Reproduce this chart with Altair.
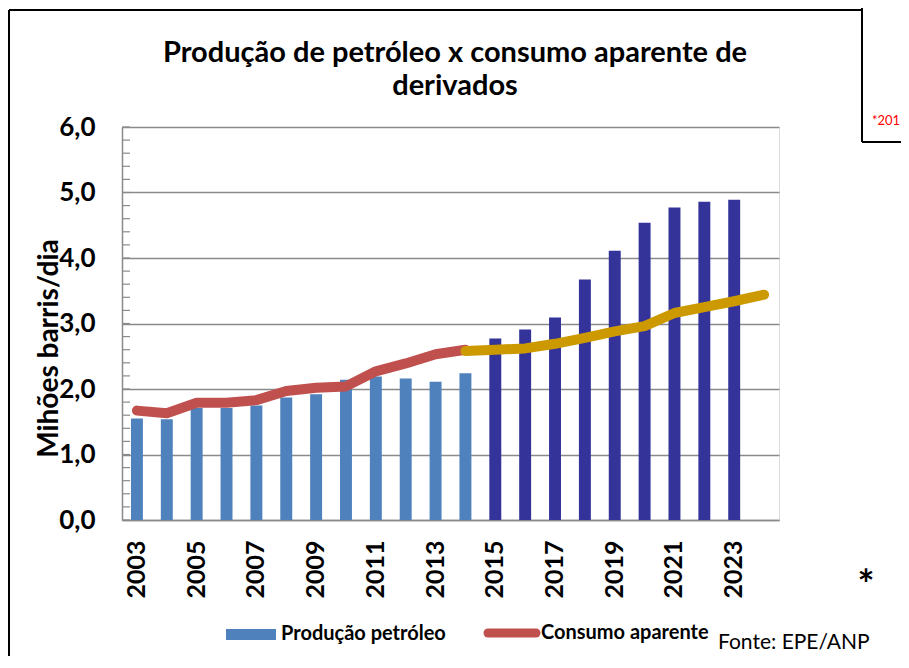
import altair as alt
import pandas as pd

# ---- data ----
anos = [2003, 2004, 2005, 2006, 2007, 2008, 2009, 2010, 2011, 2012, 2013,
        2014, 2015, 2016, 2017, 2018, 2019, 2020, 2021, 2022, 2023, 2024]
anos_producao = [2003, 2004, 2005, 2006, 2007, 2008, 2009, 2010, 2011, 2012, 2013,
                 2014, 2015, 2016, 2017, 2018, 2019, 2020, 2021, 2022, 2023]
producao = [1.55, 1.54, 1.71, 1.71, 1.75, 1.87, 1.92, 2.14, 2.19, 2.16, 2.11,
            2.24, 2.77, 2.91, 3.09, 3.67, 4.11, 4.54, 4.77, 4.86, 4.89]
periodo_producao = ["hist"] * 12 + ["proj"] * 9

anos_consumo_hist = [2003, 2004, 2005, 2006, 2007, 2008, 2009, 2010, 2011, 2012, 2013, 2014]
consumo_hist = [1.67, 1.63, 1.79, 1.79, 1.83, 1.97, 2.02, 2.04, 2.27, 2.39, 2.53, 2.60]
anos_consumo_proj = [2014, 2015, 2016, 2017, 2018, 2019, 2020, 2021, 2022, 2023, 2024]
consumo_proj = [2.58, 2.60, 2.62, 2.69, 2.78, 2.88, 2.96, 3.16, 3.25, 3.34, 3.44]

anos_rotulo = [2003, 2005, 2007, 2009, 2011, 2013, 2015, 2017, 2019, 2021, 2023]
y_valores = [0, 1, 2, 3, 4, 5, 6]
ticks_menores = [i / 5 for i in range(31)]

titulo_l1 = "Produção de petróleo x consumo aparente de"
titulo_l2 = "derivados"
titulo_y = "Mihões barris/dia"
legenda_producao = "Produção petróleo"
legenda_consumo = "Consumo aparente"
fonte = "Fonte: EPE/ANP"

FONT = "Lato"
AZUL = "#4F81BD"
AZUL_ESCURO = "#333399"
VERMELHO = "#C0504D"
OURO = "#CC9A00"
CINZA = "#8A8A8A"

df_prod = pd.DataFrame({"ano": anos_producao, "valor": producao, "periodo": periodo_producao})
df_hist = pd.DataFrame({"ano": anos_consumo_hist, "valor": consumo_hist})
df_proj = pd.DataFrame({"ano": anos_consumo_proj, "valor": consumo_proj})
df_ticks = pd.DataFrame({"valor": ticks_menores})
one = alt.InlineData(values=[{"k": 1}])

x_enc = alt.X(
    "ano:O",
    scale=alt.Scale(domain=anos, paddingInner=0.6),
    axis=alt.Axis(
        values=anos_rotulo, title=None, labelAngle=-90, ticks=False,
        labelPadding=20, labelFont=FONT, labelFontSize=25, labelFontWeight="bold",
        labelColor="black", domainColor=CINZA, domainWidth=1.5,
    ),
)
y_axis = alt.Axis(
    values=y_valores, title=titulo_y, grid=True, gridColor=CINZA, gridWidth=1.5,
    ticks=False, labelPadding=27, labelFont=FONT, labelFontSize=26,
    labelFontWeight="bold", labelColor="black",
    labelExpr="replace(format(datum.value, '.1f'), '.', ',')",
    domainColor=CINZA, domainWidth=1.5,
    titleFont=FONT, titleFontSize=28, titleFontWeight="bold", titleColor="black",
    titleAngle=-90, titleX=-65, titleY=221, titleAlign="center",
    titleBaseline="alphabetic",
)
y_scale = alt.Scale(domain=[0, 6], nice=False)
y_enc = alt.Y("valor:Q", scale=y_scale, axis=y_axis)

bars = alt.Chart(df_prod).mark_bar().encode(
    x=x_enc, y=y_enc,
    color=alt.Color("periodo:N", scale=alt.Scale(domain=["hist", "proj"], range=[AZUL, AZUL_ESCURO]), legend=None),
)

minor = alt.Chart(df_ticks).mark_rule(color=CINZA, strokeWidth=1.2).encode(
    y=y_enc, x=alt.value(0), x2=alt.value(8),
)

line_hist = alt.Chart(df_hist).mark_line(color=VERMELHO, strokeWidth=10, strokeCap="round", strokeJoin="round").encode(x=x_enc, y=y_enc)
line_proj = alt.Chart(df_proj).mark_line(color=OURO, strokeWidth=10, strokeCap="round", strokeJoin="round").encode(x=x_enc, y=y_enc)

# ---- title, legend & frame decorations ----
title1 = alt.Chart(one).mark_text(align="center", baseline="alphabetic", font=FONT, fontSize=29, fontWeight="bold", color="black").encode(
    x=alt.value(333), y=alt.value(-65), text=alt.value(titulo_l1))
title2 = alt.Chart(one).mark_text(align="center", baseline="alphabetic", font=FONT, fontSize=29, fontWeight="bold", color="black").encode(
    x=alt.value(333), y=alt.value(-32), text=alt.value(titulo_l2))
leg_rect = alt.Chart(one).mark_rect(color=AZUL).encode(
    x=alt.value(104), x2=alt.value(154), y=alt.value(502), y2=alt.value(513))
leg_txt1 = alt.Chart(one).mark_text(align="left", baseline="middle", font=FONT, fontSize=20, fontWeight="bold", color="black").encode(
    x=alt.value(159), y=alt.value(507), text=alt.value(legenda_producao))
leg_line = alt.Chart(one).mark_rule(color=VERMELHO, strokeWidth=9, strokeCap="round").encode(
    x=alt.value(366), x2=alt.value(414), y=alt.value(506))
leg_txt2 = alt.Chart(one).mark_text(align="left", baseline="middle", font=FONT, fontSize=20, fontWeight="bold", color="black").encode(
    x=alt.value(419), y=alt.value(506), text=alt.value(legenda_consumo))
fonte_txt = alt.Chart(one).mark_text(align="left", baseline="alphabetic", font=FONT, fontSize=21, color="black").encode(
    x=alt.value(596), y=alt.value(522), text=alt.value(fonte))
asterisco = alt.Chart(one).mark_text(align="center", baseline="alphabetic", font=FONT, fontSize=40, fontWeight="bold", color="black").encode(
    x=alt.value(744), y=alt.value(472), text=alt.value("*"))
box_txt = alt.Chart(one).mark_text(align="left", baseline="alphabetic", font=FONT, fontSize=13, color="#FF0000").encode(
    x=alt.value(750), y=alt.value(-2), text=alt.value("*201"))

frame_left = alt.Chart(one).mark_rule(color="black", strokeWidth=2).encode(
    x=alt.value(-113), y=alt.value(-117), y2=alt.value(560))
frame_top = alt.Chart(one).mark_rule(color="black", strokeWidth=2).encode(
    x=alt.value(-113), x2=alt.value(740), y=alt.value(-117))
box_left = alt.Chart(one).mark_rule(color="black", strokeWidth=2).encode(
    x=alt.value(740), y=alt.value(-130), y2=alt.value(15))
box_bottom = alt.Chart(one).mark_rule(color="black", strokeWidth=2).encode(
    x=alt.value(740), x2=alt.value(800), y=alt.value(15))

chart = alt.layer(
    bars, minor, line_hist, line_proj,
    title1, title2,
    leg_rect, leg_txt1, leg_line, leg_txt2, fonte_txt, asterisco, box_txt,
    frame_left, frame_top, box_left, box_bottom,
).properties(
    width=657, height=393,
    autosize=alt.AutoSizeParams(type="none"),
    padding={"left": 114, "top": 119, "right": 122, "bottom": 136},
).configure_view(stroke=None).configure(background="white")

chart.save("out.html", embed_options={"renderer": "svg", "actions": False})
